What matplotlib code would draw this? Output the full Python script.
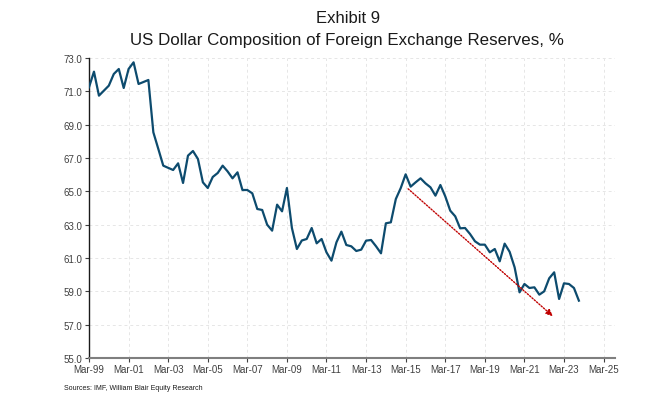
"""US dollar share of allocated FX reserves, quarterly, with the post-2015 trend arrow.

Output: out.png
"""
import sys

import matplotlib
matplotlib.use("Agg")
import matplotlib.pyplot as plt  # noqa: E402
import pandas as pd  # noqa: E402

plt.rcParams["font.family"] = ["Liberation Sans", "DejaVu Sans"]

INK, MUTED, GRID = "#1a1a1a", "#404040", "#e6e6e6"
LINE, ARROW = "#0d4b6e", "#c00000"

# quarterly observations, Mar-99 .. Dec-23
QUARTERS = pd.date_range("1999-03-01", "2023-12-01", freq="3MS")
USD_SHARE = [
    71.24, 72.18, 70.74, 71.04, 71.34, 72.04, 72.34, 71.20, 72.34, 72.74,
    71.44, 71.56, 71.68, 68.54, 67.54, 66.54, 66.41, 66.28, 66.68, 65.50,
    67.14, 67.42, 66.94, 65.54, 65.20, 65.86, 66.10, 66.54, 66.20, 65.78,
    66.14, 65.08, 65.08, 64.88, 63.94, 63.88, 63.00, 62.64, 64.20, 63.80,
    65.20, 62.80, 61.54, 62.05, 62.14, 62.80, 61.88, 62.14, 61.34, 60.84,
    61.94, 62.58, 61.78, 61.70, 61.42, 61.50, 62.04, 62.08, 61.70, 61.28,
    63.08, 63.14, 64.54, 65.20, 66.02, 65.28, 65.54, 65.78, 65.48, 65.24,
    64.74, 65.38, 64.70, 63.84, 63.50, 62.78, 62.80, 62.44, 62.00, 61.80,
    61.80, 61.34, 61.54, 60.80, 61.86, 61.37, 60.44, 58.94, 59.44, 59.20,
    59.24, 58.80, 59.00, 59.78, 60.14, 58.54, 59.48, 59.44, 59.20, 58.44,
]
X_TICKS = pd.date_range("1999-03-01", "2025-03-01", freq="24MS")
Y_TICKS = [55.0, 57.0, 59.0, 61.0, 63.0, 65.0, 67.0, 69.0, 71.0, 73.0]

# trend arrow from the 2015 peak
TREND_FROM = (pd.Timestamp("2015-04-15"), 65.15)
TREND_TO = (pd.Timestamp("2022-08-10"), 57.5)


def main() -> int:
    fig = plt.figure(figsize=(6.7, 4.06), dpi=100)
    ax = fig.add_axes([0.1328, 0.1158, 0.7845, 0.7389])

    ax.plot(QUARTERS, USD_SHARE, color=LINE, lw=1.6, zorder=3,
            solid_joinstyle="round")
    ax.annotate("", xy=TREND_TO, xytext=TREND_FROM, zorder=4,
                arrowprops=dict(arrowstyle="-|>,head_length=0.4,head_width=0.18",
                                color=ARROW, lw=1.0, linestyle=(0, (1, 1.2)),
                                shrinkA=0, shrinkB=0))

    ax.set_xlim(pd.Timestamp("1999-03-01"), pd.Timestamp("2025-09-20"))
    ax.set_ylim(55, 73)
    ax.set_xticks(X_TICKS)
    ax.set_xticklabels([d.strftime("%b-%y") for d in X_TICKS])
    ax.set_yticks(Y_TICKS)
    ax.set_yticklabels([f"{v:.1f}" for v in Y_TICKS])
    ax.tick_params(axis="both", labelsize=7, colors=MUTED, length=3, width=0.8)
    ax.tick_params(axis="x", pad=1.5)
    ax.tick_params(axis="y", pad=2)
    ax.grid(True, color=GRID, lw=0.7, ls=(0, (3, 3)), zorder=0)

    for sp in ("top", "right"):
        ax.spines[sp].set_visible(False)
    ax.spines["left"].set_color(INK)
    ax.spines["left"].set_linewidth(1.0)
    ax.spines["bottom"].set_color("#7f7f7f")
    ax.spines["bottom"].set_linewidth(1.5)

    fig.text(0.52, 0.955, "Exhibit 9", ha="center", va="center",
             fontsize=12, color=INK)
    fig.text(0.518, 0.900, "US Dollar Composition of Foreign Exchange Reserves, %",
             ha="center", va="center", fontsize=12.2, color=INK)
    fig.text(0.0955, 0.044, "Sources: IMF, William Blair Equity Research",
             ha="left", va="center", fontsize=5.0, color=INK)

    fig.savefig("out.png", facecolor="white")
    return 0


if __name__ == "__main__":
    sys.exit(main())
